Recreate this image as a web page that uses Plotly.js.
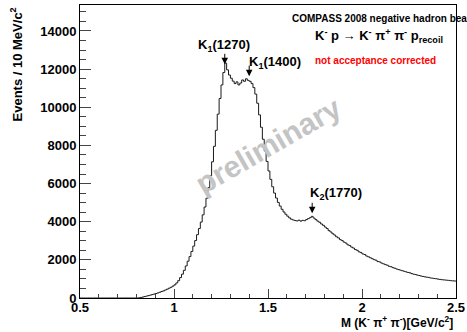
<!DOCTYPE html>
<html>
<head>
<meta charset="utf-8">
<script src="https://cdn.plot.ly/plotly-3.0.1.min.js"></script>
<style>
  html, body { margin: 0; padding: 0; background: #fff; }
  #plot { width: 467px; height: 332px; }
</style>
</head>
<body>
<div id="plot"></div>
<script>
// Invariant mass of K- pi+ pi-, 10 MeV/c^2 bins from 0.5 to 2.5 GeV/c^2
const massMin = 0.5;
const binWidth = 0.01;
const counts = [
  0, 0, 0, 0, 0, 0, 0, 0, 0, 0,                // 0.50 - 0.59
  0, 0, 0, 0, 0, 0, 0, 0, 0, 0,                // 0.60 - 0.69
  0, 0, 0, 0, 0, 0, 0, 0, 0, 0,                // 0.70 - 0.79
  0, 10, 30, 50, 75, 100, 125, 150, 180, 205,  // 0.80 - 0.89
  235, 265, 300, 340, 375, 420, 465, 515, 565, 625,            // 0.90 - 0.99
  690, 790, 910, 1070, 1250, 1450, 1680, 1930, 2170, 2440,     // 1.00 - 1.09
  2720, 3010, 3320, 3640, 3980, 4360, 4770, 5230, 5780, 6410,  // 1.10 - 1.19
  7140, 7950, 8790, 9640, 10460, 11170, 11820, 12310, 11960, 11690, // 1.20 - 1.29
  11520, 11370, 11240, 11330, 11170, 11270, 11430, 11360, 11490, 11410, // 1.30 - 1.39
  11360, 11240, 11030, 10690, 10210, 9600, 8950, 8320, 7710, 7160,   // 1.40 - 1.49
  6660, 6220, 5830, 5500, 5240, 5010, 4820, 4650, 4510, 4390,  // 1.50 - 1.59
  4290, 4200, 4130, 4090, 4060, 4040, 4080, 4030, 4070, 4050,  // 1.60 - 1.69
  4110, 4160, 4210, 4280, 4190, 4110, 4030, 3970, 3880, 3810,  // 1.70 - 1.79
  3720, 3640, 3530, 3460, 3370, 3300, 3210, 3150, 3060, 3010,  // 1.80 - 1.89
  2930, 2880, 2790, 2750, 2670, 2620, 2540, 2500, 2420, 2380,  // 1.90 - 1.99
  2310, 2280, 2200, 2160, 2110, 2060, 2010, 1980, 1910, 1890,  // 2.00 - 2.09
  1830, 1790, 1750, 1720, 1660, 1640, 1590, 1560, 1520, 1490,  // 2.10 - 2.19
  1460, 1430, 1400, 1370, 1340, 1320, 1280, 1250, 1230, 1200,  // 2.20 - 2.29
  1180, 1150, 1130, 1110, 1090, 1080, 1050, 1040, 1020, 1010,  // 2.30 - 2.39
  990, 975, 960, 950, 940, 930, 920, 905, 900, 890             // 2.40 - 2.49
];

// Resonances marked with arrows
const resonanceLabels = ['K<sub>1</sub>(1270)', 'K<sub>1</sub>(1400)', 'K<sub>2</sub>(1770)'];
const arrowMass = [1.27, 1.40, 1.735];
const arrowTip = [12250, 11630, 4440];

// Bin edges for a step outline (last bin closed at the right edge)
const edges = [];
const stepY = [];
for (let i = 0; i < counts.length; i++) {
  edges.push(massMin + i * binWidth);
  stepY.push(counts[i]);
}
edges.push(massMin + counts.length * binWidth);
stepY.push(counts[counts.length - 1]);

const W = 467, H = 332;
const M = { l: 80, r: 11, t: 5, b: 34 };
const pw = W - M.l - M.r, ph = H - M.t - M.b;
const px = x => (x - M.l) / pw;          // page pixel -> paper x
const py = y => (H - M.b - y) / ph;      // page pixel -> paper y

const FONT = 'Liberation Sans, Arial, Helvetica, sans-serif';

const trace = {
  type: 'scatter',
  mode: 'lines',
  x: edges,
  y: stepY,
  line: { shape: 'hv', color: '#1a1a1a', width: 1 },
  hoverinfo: 'skip'
};

const labelPos = [[224, 45], [274.5, 62], [335.5, 193]];

const annotations = [];
resonanceLabels.forEach((t, i) => {
  annotations.push({
    xref: 'paper', yref: 'paper', x: px(labelPos[i][0]), y: py(labelPos[i][1]),
    xanchor: 'center', yanchor: 'middle', showarrow: false,
    text: '<b>' + t + '</b>', font: { family: FONT, size: 13, color: '#000' }
  });
  annotations.push({
    xref: 'x', yref: 'y', x: arrowMass[i], y: arrowTip[i],
    ax: 0, ay: -12, showarrow: true, arrowhead: 2, arrowsize: 1.3,
    arrowwidth: 1, arrowcolor: '#000', text: ''
  });
});

annotations.push(
  {
    xref: 'paper', yref: 'paper', x: px(290), y: py(18), xanchor: 'left', yanchor: 'middle',
    showarrow: false, text: '<b>COMPASS 2008 negative hadron beam</b>',
    font: { family: FONT, size: 10, color: '#000' }
  },
  {
    xref: 'paper', yref: 'paper', x: px(313), y: py(36), xanchor: 'left', yanchor: 'middle',
    showarrow: false,
    text: '<b>K<sup>-</sup> p \u2192 K<sup>-</sup> \u03c0<sup>+</sup> \u03c0<sup>-</sup> p<sub>recoil</sub></b>',
    font: { family: FONT, size: 13, color: '#000' }
  },
  {
    xref: 'paper', yref: 'paper', x: px(313), y: py(60), xanchor: 'left', yanchor: 'middle',
    showarrow: false, text: '<b>not acceptance corrected</b>',
    font: { family: FONT, size: 10, color: '#ff0000' }
  },
  {
    xref: 'paper', yref: 'paper', x: px(268), y: py(145), xanchor: 'center', yanchor: 'middle',
    showarrow: false, text: '<b>preliminary</b>', textangle: -30,
    font: { family: FONT, size: 30, color: '#c4c4c4' }
  },
  {
    xref: 'paper', yref: 'paper', x: px(455), y: py(322), xanchor: 'right', yanchor: 'middle',
    showarrow: false,
    text: '<b>M (K<sup>-</sup> \u03c0<sup>+</sup> \u03c0<sup>-</sup>)[GeV/c<sup>2</sup>]</b>',
    font: { family: FONT, size: 12, color: '#000' }
  },
  {
    xref: 'paper', yref: 'paper', x: px(16), y: py(64.5), xanchor: 'center', yanchor: 'middle',
    showarrow: false, textangle: -90,
    text: '<b>Events / 10 MeV/c<sup>2</sup></b>',
    font: { family: FONT, size: 13, color: '#000' }
  }
);

const layout = {
  width: W, height: H,
  margin: M,
  paper_bgcolor: '#fff', plot_bgcolor: '#fff',
  showlegend: false,
  xaxis: {
    range: [0.5, 2.5], tick0: 0.5, dtick: 0.5,
    ticks: 'inside', ticklen: 9, tickwidth: 1, tickcolor: '#444',
    ticklabelstandoff: -3,
    minor: { dtick: 0.1, ticks: 'inside', ticklen: 4.5, tickwidth: 1, tickcolor: '#444', showgrid: false },
    showgrid: false, zeroline: false,
    showline: true, linecolor: '#000', linewidth: 1, mirror: true,
    tickfont: { family: FONT, size: 13, color: '#000', weight: 'bold' }
  },
  yaxis: {
    range: [0, 15360], tick0: 0, dtick: 2000, tickformat: 'd',
    ticks: 'inside', ticklen: 11, tickwidth: 1, tickcolor: '#444',
    minor: { dtick: 500, ticks: 'inside', ticklen: 6, tickwidth: 1, tickcolor: '#444', showgrid: false },
    showgrid: false, zeroline: false,
    showline: true, linecolor: '#000', linewidth: 1, mirror: true,
    tickfont: { family: FONT, size: 13, color: '#000', weight: 'bold' }
  },
  annotations: annotations
};

Plotly.newPlot('plot', [trace], layout, { staticPlot: true, displayModeBar: false });
</script>
</body>
</html>
